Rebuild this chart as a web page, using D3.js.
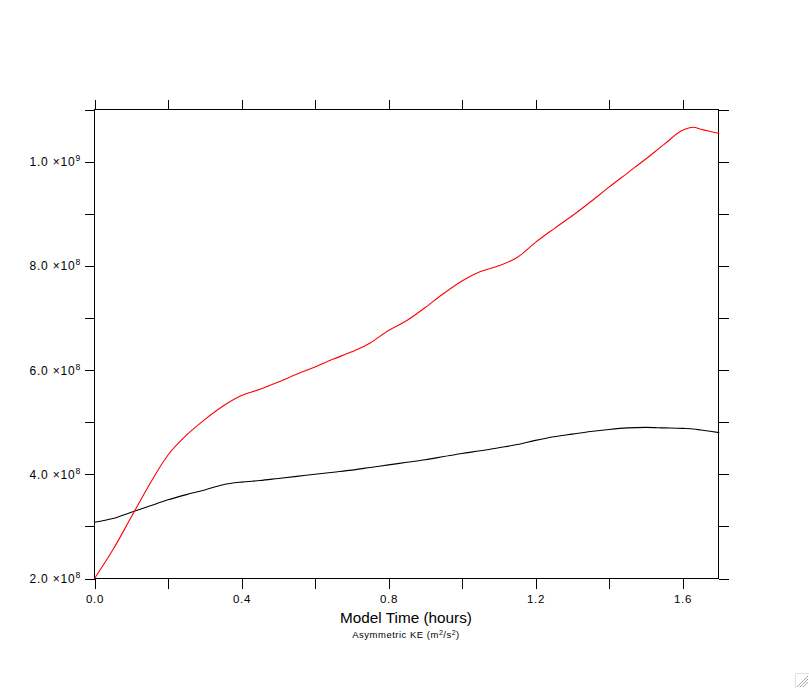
<!DOCTYPE html>
<html>
<head>
<meta charset="utf-8">
<script src="https://cdn.jsdelivr.net/npm/d3@7"></script>
<style>
  html, body { margin: 0; padding: 0; background: #fff; }
  svg { display: block; }
  text { font-family: "Liberation Sans", Arial, Helvetica, sans-serif; fill: #000; }
</style>
</head>
<body>
<svg id="chart" width="809" height="688"></svg>
<script>
// ---- data (model time in hours, Asymmetric KE in m^2/s^2) ----
const timeHours = [0.00,0.05,0.10,0.15,0.20,0.25,0.30,0.35,0.40,0.45,0.50,0.55,0.60,0.65,0.70,0.75,0.80,0.85,0.90,0.95,1.00,1.05,1.10,1.15,1.20,1.25,1.30,1.35,1.40,1.45,1.50,1.55,1.60,1.63,1.65,1.70];
const redKE = [2.00,2.55,3.18,3.81,4.37,4.75,5.05,5.31,5.51,5.63,5.77,5.92,6.06,6.21,6.35,6.52,6.76,6.95,7.20,7.47,7.71,7.89,8.00,8.16,8.45,8.71,8.96,9.23,9.51,9.78,10.05,10.33,10.60,10.66,10.62,10.54].map(v => v * 1e8);
const blackKE = [3.08,3.15,3.27,3.39,3.51,3.61,3.70,3.80,3.85,3.88,3.92,3.96,4.00,4.04,4.08,4.13,4.18,4.23,4.28,4.34,4.40,4.45,4.51,4.57,4.65,4.72,4.77,4.82,4.86,4.89,4.90,4.89,4.88,4.87,4.85,4.80].map(v => v * 1e8);
const xTickValues = [0,0.2,0.4,0.6,0.8,1.0,1.2,1.4,1.6];
const xTickLabels = ["0.0","","0.4","","0.8","","1.2","","1.6"];
const yTickValues = [2e8,3e8,4e8,5e8,6e8,7e8,8e8,9e8,10e8,11e8];
const yLabelValues = [2e8,4e8,6e8,8e8,10e8];
const xTitle = "Model Time (hours)";

// ---- layout ----
const svg = d3.select("#chart");
const L = 94.5, R = 718.5, T = 109.5, B = 578.5;
const x = d3.scaleLinear().domain([0, 1.7]).range([L, L + 1.7 * 367.5]);
const y = d3.scaleLinear().domain([2e8, 11e8]).range([B, T]);

// frame
svg.append("rect").attr("x", L).attr("y", T).attr("width", R - L).attr("height", B - T)
  .attr("fill", "none").attr("stroke", "#000").attr("stroke-width", 1).attr("shape-rendering", "crispEdges");

const tickLen = 10;
// x ticks bottom & top
const gx = svg.append("g").attr("shape-rendering", "crispEdges");
xTickValues.forEach((v, i) => {
  const px = Math.round(x(v)) + 0.5;
  gx.append("line").attr("x1", px).attr("x2", px).attr("y1", B).attr("y2", B + tickLen).attr("stroke", "#000");
  gx.append("line").attr("x1", px).attr("x2", px).attr("y1", T).attr("y2", T - tickLen).attr("stroke", "#000");
  if (xTickLabels[i]) {
    svg.append("text").attr("x", x(v) + 0.5).attr("y", 603).attr("text-anchor", "middle")
      .attr("font-size", 11.5).attr("letter-spacing", 0.7).text(xTickLabels[i]);
  }
});
// y ticks left & right
const gy = svg.append("g").attr("shape-rendering", "crispEdges");
yTickValues.forEach(v => {
  const py = Math.round(y(v)) + 0.5;
  gy.append("line").attr("x1", L).attr("x2", L - tickLen).attr("y1", py).attr("y2", py).attr("stroke", "#000");
  gy.append("line").attr("x1", R).attr("x2", R + tickLen).attr("y1", py).attr("y2", py).attr("stroke", "#000");
});
yLabelValues.forEach(v => {
  const e = Math.floor(Math.log10(v));
  const m = (v / Math.pow(10, e)).toFixed(1);
  const t = svg.append("text").attr("x", 81).attr("y", y(v) + 4.5).attr("text-anchor", "end")
    .attr("font-size", 12).attr("letter-spacing", 0.8);
  t.append("tspan").text(m + " \u00d710");
  t.append("tspan").attr("dy", -5).attr("font-size", 8.5).text(String(e));
});

// lines
const line = d3.line().x((d, i) => x(timeHours[i])).y(d => y(d)).curve(d3.curveMonotoneX);
svg.append("path").datum(blackKE).attr("d", line).attr("fill", "none").attr("stroke", "#000").attr("stroke-width", 1.1);
svg.append("path").datum(redKE).attr("d", line).attr("fill", "none").attr("stroke", "#ff0000").attr("stroke-width", 1.1);

// titles
svg.append("text").attr("x", 406).attr("y", 623).attr("text-anchor", "middle").attr("font-size", 15.3).text(xTitle);
const sub = svg.append("text").attr("x", 406).attr("y", 638).attr("text-anchor", "middle")
  .attr("font-size", 9.5).attr("letter-spacing", 0.5);
sub.append("tspan").text("Asymmetric KE (m");
sub.append("tspan").attr("dy", -3).attr("font-size", 7).text("2");
sub.append("tspan").attr("dy", 3).text("/s");
sub.append("tspan").attr("dy", -3).attr("font-size", 7).text("2");
sub.append("tspan").attr("dy", 3).text(")");

// window resize grip
const grip = svg.append("g").attr("stroke", "#c8c8c8").attr("stroke-width", 1);
grip.append("path").attr("d", "M795.5,688 V673.5 H809").attr("fill", "none").attr("stroke", "#e0e0e0");
[[800,687,808,679],[803,687,808,682],[797,687,808,676]].forEach(s =>
  grip.append("line").attr("x1", s[0]).attr("y1", s[1]).attr("x2", s[2]).attr("y2", s[3]).attr("stroke", "#a8a8a8"));
</script>
</body>
</html>
